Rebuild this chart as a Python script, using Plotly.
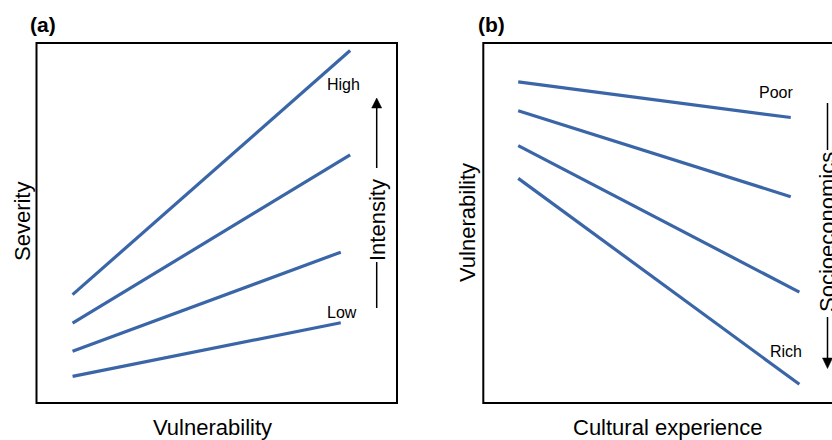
import plotly.graph_objects as go

W, H = 832, 440

# Panel (a): severity vs vulnerability, one line per hazard intensity (low -> high)
sev_x_start = [10, 10, 10, 10]
sev_x_end = [84.4, 84.4, 87.0, 87.0]
sev_y_start = [7.4, 14.4, 22.2, 30.1]
sev_y_end = [22.3, 41.9, 68.9, 97.9]

# Panel (b): vulnerability vs cultural experience, one line per socioeconomic level (poor -> rich)
vul_x_start = [9.7, 9.7, 9.7, 9.7]
vul_x_end = [85.4, 85.4, 87.8, 87.8]
vul_y_start = [89.2, 81.2, 71.5, 62.4]
vul_y_end = [79.3, 57.3, 30.8, 5.2]

LINE_COLOR = "#3a66a8"
FONT = "Liberation Sans, Arial, sans-serif"


def px(x):
    return x / W


def py(y):
    return 1 - y / H


# plot boxes in pixels
A_L, A_R, A_T, A_B = 36.5, 397.0, 43.0, 403.0
B_L, B_R, B_T, B_B = 483.3, 843.3, 43.0, 403.0

fig = go.Figure()

for xs, xe, ys, ye in zip(sev_x_start, sev_x_end, sev_y_start, sev_y_end):
    fig.add_trace(go.Scatter(x=[xs, xe], y=[ys, ye], mode="lines",
                             line=dict(color=LINE_COLOR, width=3.2),
                             xaxis="x", yaxis="y", hoverinfo="skip"))

for xs, xe, ys, ye in zip(vul_x_start, vul_x_end, vul_y_start, vul_y_end):
    fig.add_trace(go.Scatter(x=[xs, xe], y=[ys, ye], mode="lines",
                             line=dict(color=LINE_COLOR, width=3.2),
                             xaxis="x2", yaxis="y2", hoverinfo="skip"))

hidden = dict(showline=False, showgrid=False, zeroline=False,
              showticklabels=False, ticks="", fixedrange=True)

fig.update_layout(
    width=W, height=H,
    margin=dict(l=0, r=0, t=0, b=0),
    paper_bgcolor="white", plot_bgcolor="white",
    showlegend=False,
    font=dict(family=FONT, color="black"),
    xaxis=dict(domain=[px(A_L), px(A_R)], range=[0, 100], **hidden),
    yaxis=dict(domain=[py(A_B), py(A_T)], range=[0, 100], **hidden),
    xaxis2=dict(domain=[px(B_L), 1.0], range=[0, (W - B_L) / (B_R - B_L) * 100],
                anchor="y2", **hidden),
    yaxis2=dict(domain=[py(B_B), py(B_T)], range=[0, 100], anchor="x2", **hidden),
)

shapes = []
# frames
for L, R, T, B in [(A_L, A_R, A_T, A_B), (B_L, B_R, B_T, B_B)]:
    shapes.append(dict(type="rect", xref="paper", yref="paper",
                       x0=px(L), x1=px(R), y0=py(B), y1=py(T),
                       line=dict(color="black", width=2)))


def seg(x, y0, y1):
    shapes.append(dict(type="line", xref="paper", yref="paper",
                       x0=px(x), x1=px(x), y0=py(y0), y1=py(y1),
                       line=dict(color="black", width=1.5)))


def head(x, base, tip):
    path = (f"M {px(x - 5)} {py(base)} L {px(x + 5)} {py(base)} "
            f"L {px(x)} {py(tip)} Z")
    shapes.append(dict(type="path", xref="paper", yref="paper", path=path,
                       fillcolor="black", line=dict(color="black", width=0.5)))


# intensity arrow (upwards)
seg(376.7, 308, 262)
seg(376.7, 168, 106)
head(376.7, 108, 98)

# socioeconomics arrow (downwards)
seg(827.5, 103, 150)
seg(827.5, 317, 360)
head(827.5, 358, 368.5)

fig.update_layout(shapes=shapes)


def label(text, x, y, size, angle=0, bold=False):
    fig.add_annotation(text=f"<b>{text}</b>" if bold else text,
                       xref="paper", yref="paper", x=px(x), y=py(y),
                       xanchor="center", yanchor="middle", showarrow=False,
                       textangle=angle, font=dict(size=size, family=FONT, color="black"))


label("(a)", 42.5, 24, 21, bold=True)
label("(b)", 491.5, 24, 21, bold=True)
label("Vulnerability", 213, 427, 22)
label("Severity", 22, 222, 22, angle=-90)
label("Cultural experience", 668, 427, 22)
label("Vulnerability", 467, 222, 22, angle=-90)
label("Intensity", 377, 220, 22, angle=-90)
label("Socioeconomics", 828, 232, 22, angle=-90)
label("High", 343, 85, 16)
label("Low", 341.5, 312, 16)
label("Poor", 776, 92, 16)
label("Rich", 786, 351, 16)

fig.write_html("out.html")
